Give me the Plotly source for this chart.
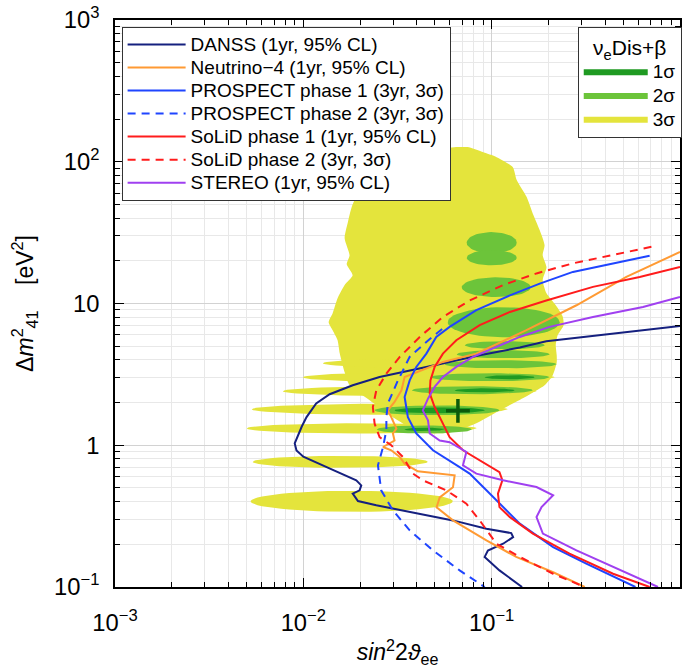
import numpy as np
import plotly.graph_objects as go

# ---------------- sensitivity curves (sin^2 2theta, dm2_41 [eV^2]) ----------------
danss_sin = [1.0, 0.195, 0.141, 0.0864, 0.0549, 0.0382, 0.0254, 0.0183, 0.0138, 0.0117, 0.0104,
             0.0098, 0.0090, 0.0092, 0.0100, 0.0133, 0.0191, 0.0203, 0.0199, 0.0183, 0.0195, 0.0244,
             0.0367, 0.0623, 0.0938, 0.127, 0.130, 0.115, 0.0955, 0.0918, 0.110, 0.145]
danss_dm2 = [6.95, 5.42, 4.89, 4.32, 3.77, 3.42, 3.03, 2.65, 2.29, 1.97, 1.58,
             1.35, 1.03, 0.92, 0.83, 0.70, 0.566, 0.521, 0.481, 0.456, 0.404, 0.377,
             0.338, 0.295, 0.258, 0.240, 0.225, 0.202, 0.181, 0.163, 0.131, 0.1]

nu4_sin = [1.0, 0.519, 0.282, 0.153, 0.0829, 0.0551, 0.0345, 0.0332, 0.0305, 0.0281, 0.0293, 0.0312,
           0.0299, 0.0305, 0.0265, 0.0293, 0.0325, 0.0345, 0.0405, 0.0636, 0.0623, 0.053, 0.051,
           0.0623, 0.0938, 0.135, 0.212, 0.312]
nu4_dm2 = [23.1, 15.4, 9.72, 6.48, 4.43, 3.87, 3.03, 2.44, 2.02, 1.76, 1.58, 1.31,
           1.21, 1.08, 0.972, 0.921, 0.826, 0.742, 0.655, 0.614, 0.505, 0.429, 0.365,
           0.295, 0.213, 0.163, 0.127, 0.1]

prospect1_sin = [0.69, 0.441, 0.27, 0.18, 0.125, 0.0829, 0.0598, 0.0508, 0.045, 0.0398, 0.0367, 0.0345,
                 0.0359, 0.0398, 0.0488, 0.0676, 0.0764, 0.0938, 0.115, 0.141, 0.212, 0.318, 0.58]
prospect1_dm2 = [21.7, 19.2, 16.7, 13.8, 11.4, 8.97, 6.84, 5.81, 4.43, 3.57, 2.87, 2.19,
                 1.58, 1.21, 0.921, 0.702, 0.631, 0.481, 0.366, 0.28, 0.191, 0.146, 0.1]

prospect2_sin = [0.0546, 0.045, 0.0367, 0.0318, 0.0281, 0.0276, 0.0276, 0.0265, 0.0249, 0.0259, 0.0299,
                 0.0367, 0.0488, 0.0676, 0.0918]
prospect2_dm2 = [6.61, 5.36, 4.20, 2.87, 1.97, 1.58, 1.28, 0.972, 0.722, 0.481, 0.347,
                 0.251, 0.181, 0.131, 0.1]

solid1_sin = [1.0, 0.611, 0.345, 0.195, 0.125, 0.0864, 0.0649, 0.0551, 0.0498, 0.0473, 0.0469, 0.0498,
              0.0551, 0.0598, 0.0704, 0.0864, 0.110, 0.114, 0.108, 0.110, 0.125, 0.1655, 0.259, 0.441, 0.69]
solid1_dm2 = [18.1, 15.4, 13.1, 10.5, 8.72, 7.03, 5.51, 4.43, 3.57, 2.87, 2.32, 1.86,
              1.42, 1.14, 0.921, 0.783, 0.647, 0.566, 0.456, 0.366, 0.311, 0.238, 0.172, 0.124, 0.1]

solid2_sin = [0.705, 0.441, 0.270, 0.173, 0.115, 0.0764, 0.0551, 0.0415, 0.0325, 0.0276, 0.0244, 0.0234,
              0.0239, 0.0254, 0.0293, 0.0338, 0.0382, 0.0431, 0.0574, 0.0734, 0.0864, 0.106, 0.141,
              0.212, 0.312]
solid2_dm2 = [25.1, 21.9, 19.2, 16.3, 13.5, 10.5, 8.04, 5.81, 4.20, 3.20, 2.44, 1.86,
              1.42, 1.14, 1.0, 0.826, 0.631, 0.566, 0.481, 0.387, 0.295, 0.202, 0.163,
              0.124, 0.1]

stereo_sin = [1.0, 0.636, 0.345, 0.203, 0.141, 0.1017, 0.0796, 0.0649, 0.0551, 0.0498, 0.0459, 0.0431,
              0.0459, 0.0469, 0.053, 0.0598, 0.0734, 0.0704, 0.0829, 0.115, 0.173, 0.212, 0.184,
              0.173, 0.187, 0.282, 0.441, 0.764]
stereo_dm2 = [11.1, 9.46, 8.04, 6.84, 5.81, 4.81, 4.20, 3.57, 3.03, 2.58, 2.13, 1.76,
              1.50, 1.21, 1.08, 1.05, 0.896, 0.722, 0.631, 0.566, 0.507, 0.444, 0.366,
              0.311, 0.238, 0.181, 0.138, 0.1]

# ---------------- nu_e Dis + beta allowed regions ----------------
# main 3 sigma body outline
blob_sin = [0.0529, 0.0660, 0.0746, 0.0896, 0.1063, 0.1293, 0.1358, 0.1534, 0.165, 0.180, 0.191,
            0.1866, 0.1955, 0.1866, 0.1955, 0.219, 0.238, 0.241, 0.224, 0.219, 0.2215, 0.2215,
            0.211, 0.191, 0.1497, 0.110, 0.0812, 0.0598, 0.0415, 0.0305, 0.0225, 0.0176, 0.01657,
            0.0156, 0.0152, 0.01431, 0.01363, 0.01431, 0.0152, 0.01657, 0.01827, 0.0170, 0.0176,
            0.01657, 0.0172, 0.01805, 0.0199, 0.0254, 0.0367]
blob_dm2 = [122.8, 126.9, 126.9, 117.0, 107.8, 91.7, 74.2, 56.3, 43.4, 32.9, 25.8,
            21.9, 18.0, 14.6, 11.8, 9.72, 8.14, 7.03, 5.97, 5.08, 4.32, 3.85,
            3.12, 2.65, 2.18, 1.76, 1.41, 1.23, 1.23, 1.55, 2.08, 2.65, 3.27,
            4.46, 5.51, 6.48, 7.38, 8.54, 10.9, 13.5, 15.8, 18.9, 21.9,
            28.9, 36.9, 47.8, 63.1, 84.5, 106.1]

# 3 sigma fingers: sin^2 extent and dm2 extent
f3_sin_lo = [0.01266, 0.00992, 0.00776, 0.00531, 0.0050, 0.00538, 0.00525]
f3_sin_hi = [0.2215, 0.216, 0.173, 0.1216, 0.0832, 0.0457, 0.0621]
f3_dm2_lo = [3.49, 2.78, 2.22, 1.64, 1.21, 0.693, 0.339]
f3_dm2_hi = [4.11, 3.27, 2.61, 1.96, 1.43, 0.842, 0.477]

# 2 sigma islands
f2_sin_lo = [0.0737, 0.0737, 0.0693, 0.0584, 0.0719, 0.0652, 0.0563, 0.0469, 0.0376, 0.0239, 0.0245]
f2_sin_hi = [0.1358, 0.1358, 0.161, 0.2296, 0.191, 0.203, 0.2215, 0.203, 0.165, 0.110, 0.0783]
f2_dm2_lo = [22.6, 18.6, 11.1, 5.78, 4.76, 4.11, 3.49, 2.83, 2.29, 1.63, 1.21]
f2_dm2_hi = [31.9, 23.8, 15.3, 9.42, 5.42, 4.68, 3.98, 3.22, 2.61, 1.91, 1.38]

# 1 sigma islands
f1_sin_lo = [0.0918, 0.0636, 0.0305, 0.0345]
f1_sin_hi = [0.169, 0.1325, 0.0918, 0.0563]
f1_dm2_lo = [2.92, 2.36, 1.68, 1.26]
f1_dm2_hi = [3.12, 2.52, 1.85, 1.33]

bestfit_sin = [0.0662]
bestfit_dm2 = [1.75]

# ---------------- styling ----------------
YEL = "#e4e43c"
GR2 = "#6cc43a"
GR1 = "#1f9a22"
FONT = "Liberation Sans, Arial, sans-serif"

fig = go.Figure()


def lens(xl, xr, yl, yh, n=60):
    cx = (np.log10(xl) + np.log10(xr)) / 2
    ax = (np.log10(xr) - np.log10(xl)) / 2
    cy = (np.log10(yl) + np.log10(yh)) / 2
    ay = (np.log10(yh) - np.log10(yl)) / 2
    t = np.linspace(0, 2 * np.pi, n)
    return 10 ** (cx + ax * np.cos(t)), 10 ** (cy + ay * np.sin(t))


def add_region(x, y, color, spline=False):
    fig.add_trace(go.Scatter(x=list(x), y=list(y), mode="lines", fill="toself", fillcolor=color,
                             line=dict(width=0, color=color, shape="spline" if spline else "linear",
                                       smoothing=0.6),
                             hoverinfo="skip", showlegend=False))


add_region(blob_sin + blob_sin[:1], blob_dm2 + blob_dm2[:1], YEL, spline=True)
for a, b, c, d in zip(f3_sin_lo, f3_sin_hi, f3_dm2_lo, f3_dm2_hi):
    add_region(*lens(a, b, c, d), YEL)
for a, b, c, d in zip(f2_sin_lo, f2_sin_hi, f2_dm2_lo, f2_dm2_hi):
    add_region(*lens(a, b, c, d), GR2)
for a, b, c, d in zip(f1_sin_lo, f1_sin_hi, f1_dm2_lo, f1_dm2_hi):
    add_region(*lens(a, b, c, d), GR1)


def big(s):
    return '<span style="font-size:19px">' + s + "</span>"


curves = [
    ("DANSS (1yr, 95% CL)", danss_sin, danss_dm2, "#15207f", "solid"),
    ("Neutrino\u22124 (1yr, 95% CL)", nu4_sin, nu4_dm2, "#ff9a33", "solid"),
    ("PROSPECT phase 1 (3yr, 3\u03c3)", prospect1_sin, prospect1_dm2, "#1f45ff", "solid"),
    ("PROSPECT phase 2 (3yr, 3\u03c3)", prospect2_sin, prospect2_dm2, "#1f45ff", "8px,6px"),
    ("SoLiD phase 1 (1yr, 95% CL)", solid1_sin, solid1_dm2, "#ff1c1c", "solid"),
    ("SoLiD phase 2 (3yr, 3\u03c3)", solid2_sin, solid2_dm2, "#ff1c1c", "8px,6px"),
    ("STEREO (1yr, 95% CL)", stereo_sin, stereo_dm2, "#a040f0", "solid"),
]
for name, xs, ys, col, dash in curves:
    fig.add_trace(go.Scatter(x=xs, y=ys, mode="lines", name=big(name),
                             line=dict(color=col, width=2, dash=dash), legend="legend"))

fig.add_trace(go.Scatter(x=bestfit_sin, y=bestfit_dm2, mode="markers", showlegend=False,
                         marker=dict(symbol="cross-thin", size=17, color="#0b5a0b",
                                     line=dict(width=3.5, color="#0b5a0b"))))

for lab, col in [("1\u03c3", GR1), ("2\u03c3", GR2), ("3\u03c3", YEL)]:
    fig.add_trace(go.Scatter(x=[None], y=[None], mode="lines", name=big(lab),
                             line=dict(color=col, width=6), legend="legend2"))

axis_common = dict(
    type="log", dtick=1, exponentformat="power", showexponent="all", automargin=False,
    showline=True, linecolor="black", linewidth=1.5, mirror="ticks",
    ticks="inside", ticklen=9, tickwidth=1.2, tickcolor="black",
    showgrid=True, gridcolor="#d2d2d2", gridwidth=1,
    minor=dict(ticks="inside", ticklen=5, tickwidth=1, tickcolor="black",
               showgrid=True, gridcolor="#e8e8e8", gridwidth=1),
    tickfont=dict(family=FONT, size=19, color="black"),
    zeroline=False,
)

fig.update_layout(
    width=683, height=672,
    margin=dict(l=115, r=3, t=20, b=85, autoexpand=False),
    paper_bgcolor="white", plot_bgcolor="white",
    font=dict(family=FONT, color="black"),
    xaxis=dict(axis_common, range=[-3, 0], ticklabelstandoff=15,
               title=dict(text="<i>sin</i><sup>2</sup>2<i>\u03d1</i><sub>ee</sub>",
                          font=dict(family=FONT, size=23), standoff=9)),
    yaxis=dict(axis_common, range=[-1, 3], ticklabelstandoff=10,
               title=dict(text="\u0394<i>m</i><sup>2</sup><sub>41</sub>    [eV<sup>2</sup>]",
                          font=dict(family=FONT, size=23), standoff=14)),
    legend=dict(x=0.0117, y=0.9876, xanchor="left", yanchor="top",
                bgcolor="white", bordercolor="#333", borderwidth=1,
                font=dict(family=FONT, size=15.4), itemwidth=58, tracegroupgap=0),
    legend2=dict(x=0.819, y=0.9876, xanchor="left", yanchor="top",
                 bgcolor="white", bordercolor="#333", borderwidth=1,
                 title=dict(text="\u03bd<sub>e</sub>Dis+\u03b2", side="top center",
                            font=dict(family=FONT, size=21)),
                 font=dict(family=FONT, size=16), itemwidth=64),
    showlegend=True,
)

fig.write_html("out.html", config={"displayModeBar": False},
               post_script="document.body.style.margin='0';document.body.style.overflow='hidden';")
